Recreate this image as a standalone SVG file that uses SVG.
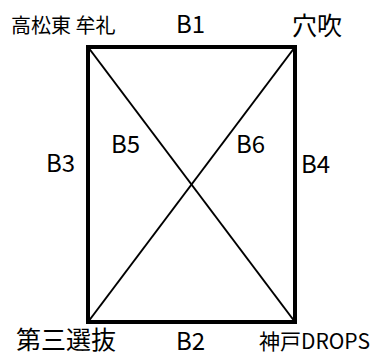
<svg xmlns="http://www.w3.org/2000/svg" width="374" height="353" viewBox="0 0 374 353">
<style>
text{font-family:"Noto Sans CJK JP","Noto Sans",sans-serif;fill:#000}
.b{font-size:24px}
.frame{fill:none;stroke:#000;stroke-width:4}
.diag{stroke:#000;stroke-width:2;fill:none}
</style>
<rect width="374" height="353" fill="#fff"/>
<g id="edges">
<line id="B5" class="diag" x1="88" y1="47" x2="295" y2="322"/>
<line id="B6" class="diag" x1="295" y1="47" x2="88" y2="322"/>
<line id="B1" class="frame" x1="86" y1="47" x2="297" y2="47"/>
<line id="B2" class="frame" x1="86" y1="322" x2="297" y2="322"/>
<line id="B3" class="frame" x1="88" y1="45" x2="88" y2="324"/>
<line id="B4" class="frame" x1="295" y1="45" x2="295" y2="324"/>
</g>
<g id="edge-labels">
<text class="b" x="176" y="33">B1</text>
<text class="b" x="176" y="350">B2</text>
<text class="b" x="46" y="172">B3</text>
<text class="b" x="301" y="173">B4</text>
<text class="b" x="111" y="153">B5</text>
<text class="b" x="236" y="153">B6</text>
</g>
<g id="n1"><text x="11" y="33" font-size="20">高松東 牟礼</text></g>
<g id="n2"><text x="292" y="35" font-size="25">穴吹</text></g>
<g id="n3"><text x="16" y="349" font-size="25">第三選抜</text></g>
<g id="n4"><text x="259" y="349" font-size="21">神戸DROPS</text></g>
</svg>
